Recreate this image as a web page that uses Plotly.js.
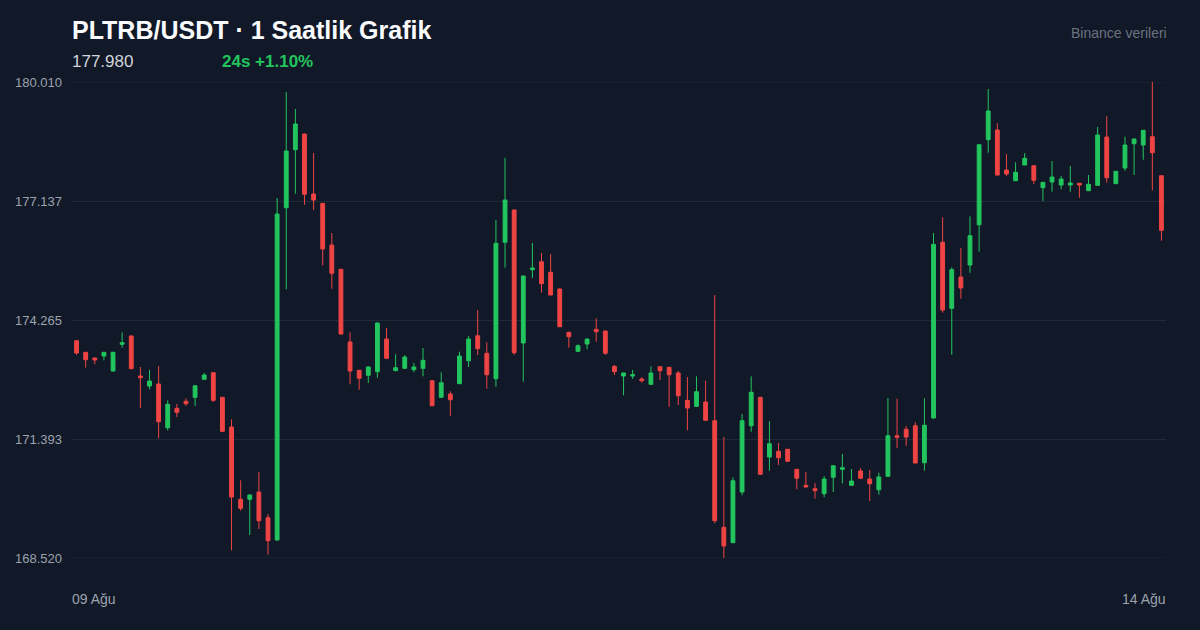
<!DOCTYPE html>
<html>
<head>
<meta charset="utf-8">
<script src="https://cdn.plot.ly/plotly-3.0.1.min.js"></script>
<style>
  html, body { margin: 0; padding: 0; background: #111827; }
  #chart { width: 1200px; height: 630px; }
</style>
</head>
<body>
<div id="chart"></div>
<script>
const titleText = "PLTRB/USDT · 1 Saatlik Grafik";
const lastPriceText = "177.980";
const changeText = "24s +1.10%";
const sourceText = "Binance verileri";
const dateLabels = ["09 Ağu", "14 Ağu"];
const yTickLabels = ["168.520", "171.393", "174.265", "177.137", "180.010"];

const open = [
173.765,173.485,173.347,173.395,173.034,173.678,173.878,172.913,172.671,172.720,
171.665,172.133,172.302,172.399,172.834,172.993,172.399,171.682,169.937,169.937,
170.113,169.492,168.954,176.975,178.376,178.754,177.306,177.082,176.075,175.489,
173.734,173.051,172.930,173.017,173.806,173.041,173.099,173.065,173.099,172.799,
172.399,172.478,172.727,173.282,173.885,173.461,172.848,176.141,176.920,173.710,
175.479,175.672,175.416,175.013,173.968,173.509,173.685,174.040,173.999,173.147,
172.913,172.913,172.841,172.712,173.137,173.123,172.986,172.326,172.181,172.285,
171.834,169.261,168.889,170.113,171.713,172.399,170.957,171.095,171.144,170.661,
170.274,170.192,170.072,170.468,170.661,170.274,170.620,170.427,170.168,170.492,
171.471,171.627,171.713,170.820,171.899,176.141,174.547,175.302,175.592,176.564,
178.617,178.851,177.885,177.627,178.006,177.989,177.458,177.596,177.523,177.523,
177.565,177.386,177.516,178.682,177.555,177.934,178.521,178.489,178.689,177.747];

const high = [
173.770,173.492,173.359,173.492,173.497,173.968,173.902,173.130,173.058,173.154,
172.326,172.236,172.375,172.683,172.986,172.998,172.406,171.868,170.395,170.052,
170.596,169.581,177.210,179.769,179.358,178.766,178.296,177.089,176.365,175.496,
173.968,173.058,173.142,174.204,174.078,173.436,173.419,173.227,173.589,172.804,
173.003,172.544,173.499,173.878,174.506,173.727,176.678,178.182,176.932,175.338,
176.124,175.882,175.857,175.025,173.980,173.678,173.813,174.306,174.006,173.178,
172.993,173.058,172.882,173.147,173.142,173.130,173.034,172.889,172.906,172.799,
174.868,171.440,170.468,171.995,172.906,172.406,171.820,171.296,171.151,170.668,
170.596,170.330,170.499,170.752,171.029,170.668,170.692,170.644,170.579,172.382,
172.365,171.706,171.796,172.375,176.365,176.744,175.537,176.003,176.768,178.501,
179.841,179.014,178.271,178.072,178.296,177.994,177.596,178.103,177.740,177.982,
177.572,177.764,178.924,179.182,177.861,178.689,178.639,178.851,180.010,177.752];

const low = [
173.426,173.113,173.195,173.292,173.027,173.596,173.082,172.140,172.592,171.409,
171.602,171.923,172.195,172.188,172.829,172.285,171.561,168.706,169.661,169.074,
169.219,168.599,168.942,175.006,177.314,177.047,176.920,175.585,175.020,173.914,
172.712,172.582,172.744,172.872,173.330,173.034,173.094,173.003,172.906,172.188,
172.394,171.954,172.720,173.130,173.419,172.606,172.654,175.527,173.426,172.775,
175.278,174.924,174.861,174.095,173.596,173.504,173.558,173.741,173.426,172.937,
172.447,172.841,172.751,172.707,172.816,172.171,172.212,171.602,172.164,171.839,
169.358,168.520,168.884,170.033,171.568,170.533,170.627,170.764,170.847,170.178,
170.226,169.951,169.985,170.113,170.323,170.269,170.437,169.895,170.047,170.485,
171.175,171.230,170.806,170.627,171.892,174.441,173.426,174.779,175.406,175.913,
178.303,177.752,177.747,177.622,178.001,177.547,177.137,177.362,177.420,177.362,
177.217,177.381,177.511,177.579,177.550,177.868,177.764,178.134,177.396,176.179];

const close = [
173.468,173.306,173.299,173.485,173.485,173.717,173.089,172.872,172.792,171.810,
172.229,172.037,172.244,172.678,172.937,172.326,171.578,169.992,169.719,170.040,
169.420,168.937,176.823,178.344,178.996,177.299,177.161,175.979,175.392,173.926,
173.034,172.858,173.130,174.192,173.340,173.113,173.371,173.130,173.292,172.195,
172.751,172.341,173.395,173.806,173.572,172.944,176.117,177.161,173.475,175.326,
175.520,175.141,174.868,174.102,173.861,173.644,173.806,173.982,173.461,173.017,
172.986,172.944,172.799,172.986,173.041,172.944,172.437,172.140,172.534,171.844,
169.420,168.809,170.385,171.834,172.520,170.540,171.279,170.940,170.854,170.444,
170.233,170.144,170.427,170.747,170.699,170.378,170.444,170.313,170.475,171.471,
171.433,171.440,170.813,171.723,176.092,174.506,175.479,175.037,176.299,178.496,
179.310,177.764,177.788,177.830,178.168,177.637,177.589,177.716,177.668,177.572,
177.523,177.540,178.730,177.699,177.854,178.489,178.634,178.844,178.303,176.430];

const xs = open.map((_, i) => i);
const yMin = Math.min(...low);
const yMax = Math.max(...high);
const yTickVals = yTickLabels.map((_, i) => yMin + (yMax - yMin) * i / (yTickLabels.length - 1));

const UP = "#22c55e", DOWN = "#ef4444";
const GRID = "#1f2937";
const FONT = "'Liberation Sans', Arial, Helvetica, sans-serif";

const trace = {
  type: "candlestick",
  x: xs, open: open, high: high, low: low, close: close,
  increasing: { line: { color: UP, width: 1 }, fillcolor: UP },
  decreasing: { line: { color: DOWN, width: 1 }, fillcolor: DOWN },
  whiskerwidth: 0,
  hoverinfo: "skip"
};

// edge gridlines (Plotly omits gridlines that sit exactly on the plot edge)
const edgeLines = [yMin, yMax].map(v => ({
  type: "line", xref: "paper", yref: "y", x0: 0, x1: 1, y0: v, y1: v,
  line: { color: GRID, width: 1 }, layer: "below"
}));

const layout = {
  width: 1200, height: 630,
  paper_bgcolor: "#111827", plot_bgcolor: "#111827",
  margin: { l: 72, r: 34, t: 82, b: 72 },
  font: { family: FONT, color: "#9ca3af" },
  showlegend: false,
  boxgap: 0.4,
  shapes: edgeLines,
  title: {
    text: titleText,
    font: { family: FONT, size: 25, color: "#f9fafb", weight: "bold" },
    xref: "paper", x: 0, xanchor: "left",
    yref: "container", y: 1 - 30 / 630, yanchor: "middle"
  },
  xaxis: {
    range: [-0.5, open.length - 0.5],
    showgrid: false, zeroline: false, showticklabels: false, ticks: "",
    rangeslider: { visible: false }, fixedrange: true, showline: false
  },
  yaxis: {
    range: [yMin, yMax],
    tickvals: yTickVals, ticktext: yTickLabels,
    tickfont: { size: 13, color: "#9ca3af" },
    gridcolor: GRID, gridwidth: 1,
    zeroline: false, showline: false, ticks: "",
    ticklabelstandoff: 9,
    fixedrange: true
  },
  annotations: [
    { text: lastPriceText, xref: "paper", yref: "paper", x: 0, y: 1 + 21 / 476,
      xanchor: "left", yanchor: "middle", showarrow: false, xshift: -2, yshift: -1,
      font: { family: FONT, size: 17, color: "#d1d5db" } },
    { text: "<b>" + changeText + "</b>", xref: "paper", yref: "paper", x: 150 / 1094, y: 1 + 21 / 476,
      xanchor: "left", yanchor: "middle", showarrow: false, xshift: -2, yshift: -1,
      font: { family: FONT, size: 17, color: UP } },
    { text: sourceText, xref: "paper", yref: "paper", x: 1, y: 1 + 49 / 476,
      xanchor: "right", yanchor: "middle", showarrow: false, xshift: 3,
      font: { family: FONT, size: 14, color: "#6b7280" } },
    { text: dateLabels[0], xref: "paper", yref: "paper", x: 0, y: -41 / 476,
      xanchor: "left", yanchor: "middle", showarrow: false, xshift: -2,
      font: { family: FONT, size: 14, color: "#9ca3af" } },
    { text: dateLabels[1], xref: "paper", yref: "paper", x: 1, y: -41 / 476,
      xanchor: "right", yanchor: "middle", showarrow: false, xshift: 2,
      font: { family: FONT, size: 14, color: "#9ca3af" } }
  ]
};

Plotly.newPlot("chart", [trace], layout, { displayModeBar: false, staticPlot: true });
</script>
</body>
</html>
